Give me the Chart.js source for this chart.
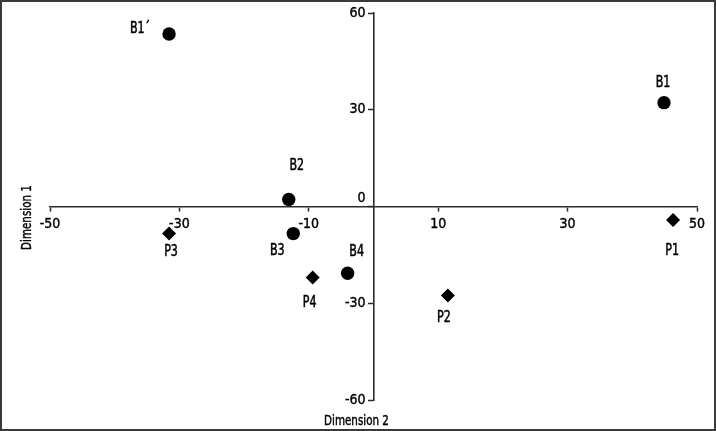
<!DOCTYPE html>
<html>
<head>
<meta charset="utf-8">
<script src="https://cdn.jsdelivr.net/npm/chart.js@4/dist/chart.umd.min.js"></script>
<style>
  html, body { margin: 0; padding: 0; background: #fff; }
  #wrap { width: 716px; height: 431px; position: relative; }
</style>
</head>
<body>
<div id="wrap"><canvas id="chart"></canvas></div>
<script>
/* ===== Data ===== */

const circleNames = ["B1", "B1´", "B2", "B3", "B4"];
const circleDim2 = [44.9, -31.6, -13.1, -12.4, -4.0];
const circleDim1 = [32.2, 53.5, 2.2, -8.4, -20.7];

const diamondNames = ["P1", "P2", "P3", "P4"];
const diamondDim2 = [46.3, 11.5, -31.6, -9.4];
const diamondDim1 = [-4.2, -27.6, -8.4, -22.0];

const xTicks = [-50, -30, -10, 10, 30, 50];
const yTicks = [-60, -30, 0, 30, 60];

/* ===== Label placement (pixels from the marker) ===== */

const circleLabelShift = [[-1, -20], [-29, -5], [8, -33], [-16, 18], [9, -21]];
const diamondLabelShift = [[-1, 31], [-4, 23], [2, 19], [-3, 26]];

const FONT = "'DejaVu Sans Condensed', 'Liberation Sans Narrow', sans-serif";
const INK = "#000";
const AXIS = "#2b2b2b";
const NARROW = 0.82; // squeeze for hand drawn texts, closer to the condensed face of the original

function toPoints(xs, ys) {
  return xs.map((x, i) => ({ x: x, y: ys[i] }));
}

function narrowText(ctx, text, x, y) {
  ctx.save();
  ctx.translate(x, y);
  ctx.scale(NARROW, 1);
  ctx.fillText(text, 0, 0);
  ctx.strokeText(text, 0, 0); // a bit heavier, like the original print
  ctx.restore();
}

/* ===== Plugins ===== */

const pointNames = {
  id: "pointNames",
  afterDatasetsDraw(chart) {
    const ctx = chart.ctx;
    ctx.save();
    ctx.font = "15px " + FONT;
    ctx.fillStyle = INK;
    ctx.strokeStyle = INK;
    ctx.lineWidth = 0.5;
    ctx.textAlign = "center";
    ctx.textBaseline = "middle";
    chart.data.datasets.forEach((ds, di) => {
      const meta = chart.getDatasetMeta(di);
      meta.data.forEach((el, i) => {
        const s = ds.labelShift[i];
        narrowText(ctx, ds.names[i], el.x + s[0], el.y + s[1]);
      });
    });
    ctx.restore();
  }
};

const frameAndTitles = {
  id: "frameAndTitles",
  afterDraw(chart) {
    const ctx = chart.ctx;
    const area = chart.chartArea;
    const xs = chart.scales.x;
    ctx.save();
    ctx.strokeStyle = "#3a3a3a";
    ctx.lineWidth = 2;
    ctx.strokeRect(1, 1, chart.width - 2, chart.height - 2);

    ctx.font = "14px " + FONT;
    ctx.fillStyle = INK;
    ctx.strokeStyle = INK;
    ctx.lineWidth = 0.4;
    ctx.textAlign = "center";
    ctx.textBaseline = "middle";
    // "Dimension 2" under the vertical axis
    narrowText(ctx, "Dimension 2", xs.getPixelForValue(0) - 17, area.bottom + 21);
    // "Dimension 1" along the left edge
    ctx.translate(27, (area.top + area.bottom) / 2 + 11);
    ctx.rotate(-Math.PI / 2);
    narrowText(ctx, "Dimension 1", 0, 0);
    ctx.restore();
  }
};

/* ===== Chart ===== */

new Chart(document.getElementById("chart"), {
  type: "scatter",
  data: {
    datasets: [
      {
        data: toPoints(circleDim2, circleDim1),
        names: circleNames,
        labelShift: circleLabelShift,
        pointStyle: "circle",
        pointRadius: 6.7,
        pointHoverRadius: 6.7,
        backgroundColor: "#000",
        borderColor: "#000",
        borderWidth: 0
      },
      {
        data: toPoints(diamondDim2, diamondDim1),
        names: diamondNames,
        labelShift: diamondLabelShift,
        pointStyle: "rectRot",
        pointRadius: 7,
        pointHoverRadius: 7,
        backgroundColor: "#000",
        borderColor: "#000",
        borderWidth: 0
      }
    ]
  },
  options: {
    responsive: true,
    maintainAspectRatio: false,
    animation: false,
    layout: { padding: { left: 50, right: 19, top: 13, bottom: 31 } },
    plugins: {
      legend: { display: false },
      tooltip: { enabled: false }
    },
    scales: {
      x: {
        type: "linear",
        min: -50,
        max: 50,
        position: { y: 0 },
        afterBuildTicks: (scale) => { scale.ticks = xTicks.map(v => ({ value: v })); },
        afterFit: (scale) => { scale.height = 0; },
        border: { display: true, color: AXIS, width: 1.6 },
        grid: { drawOnChartArea: false, drawTicks: true, tickLength: 4, tickColor: AXIS, tickWidth: 1.5 },
        ticks: {
          color: INK,
          font: { family: FONT, size: 14 },
          textStrokeColor: INK,
          textStrokeWidth: 0.4,
          padding: 5,
          maxRotation: 0,
          autoSkip: false
        }
      },
      y: {
        type: "linear",
        min: -60,
        max: 60,
        position: { x: 0 },
        afterBuildTicks: (scale) => { scale.ticks = yTicks.map(v => ({ value: v })); },
        afterFit: (scale) => { scale.width = 0; },
        border: { display: true, color: AXIS, width: 1.6 },
        grid: { drawOnChartArea: false, drawTicks: true, tickLength: 5, tickColor: AXIS, tickWidth: 1.5 },
        ticks: {
          color: INK,
          font: { family: FONT, size: 14 },
          textStrokeColor: INK,
          textStrokeWidth: 0.4,
          autoSkip: false,
          // centred axes get no label padding, so pad with spaces; lift "0" above the x axis
          callback: (v) => (v === 0 ? ["0  ", ""] : v + "  ")
        }
      }
    }
  },
  plugins: [pointNames, frameAndTitles]
});
</script>
</body>
</html>
